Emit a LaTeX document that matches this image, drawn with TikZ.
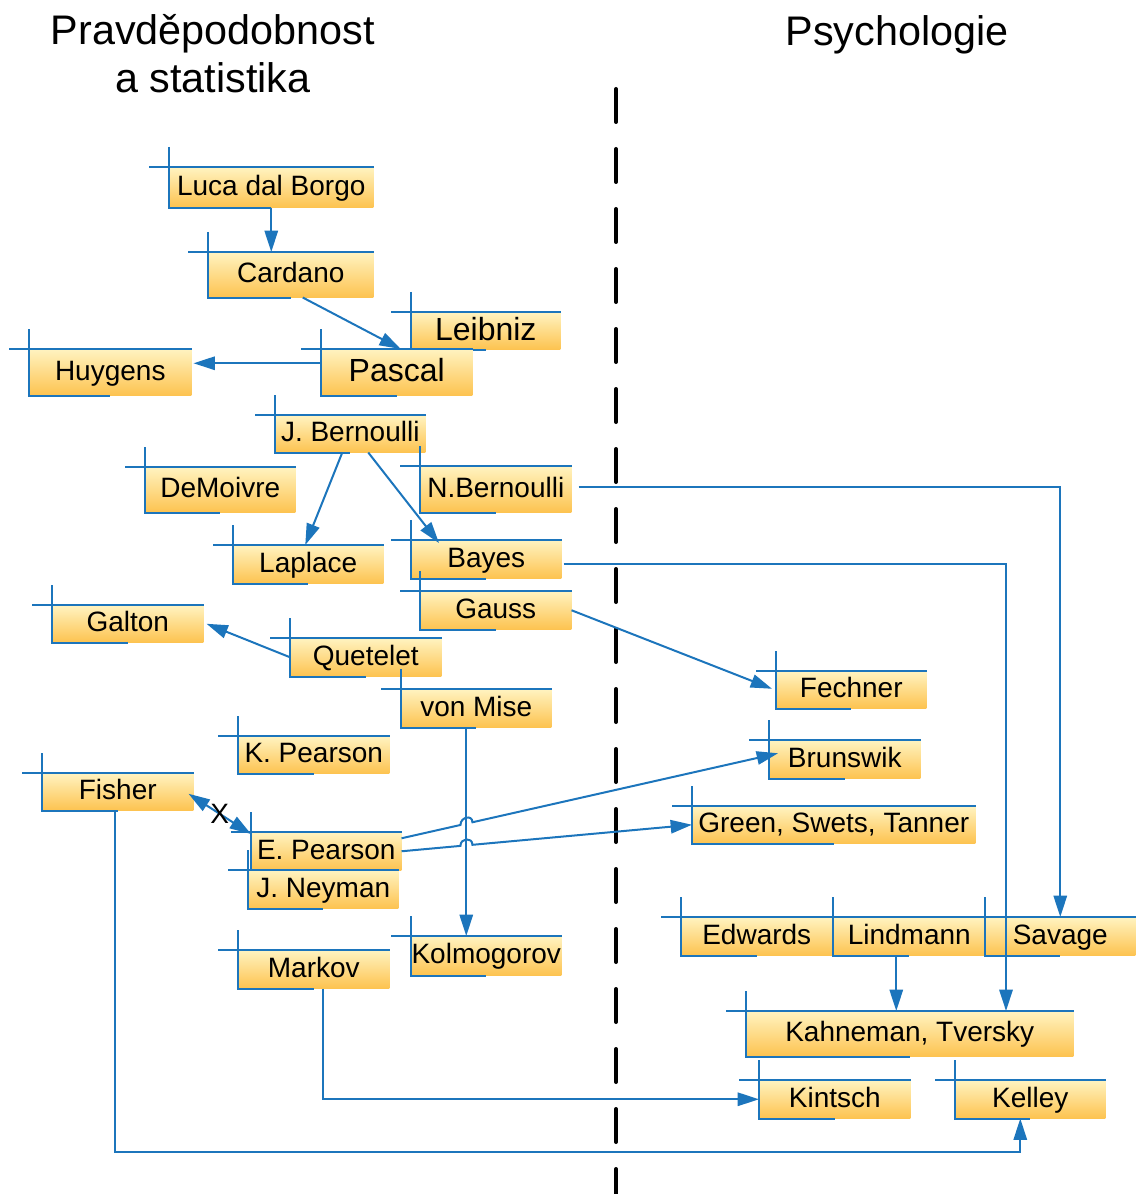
\documentclass[tikz,border=0pt]{standalone}
\usepackage{fontspec}
\setmainfont{Liberation Sans}
\usetikzlibrary{arrows.meta,calc}

\definecolor{lineblue}{RGB}{28,117,188}
\definecolor{boxtop}{RGB}{255,243,192}
\definecolor{boxbot}{RGB}{253,195,80}

\tikzset{
  namebox/.style={inner sep=0pt, top color=boxtop, bottom color=boxbot, draw=none,
    font=\fontsize{21}{25}\selectfont, text=black, text height=15pt, text depth=3pt},
  bigname/.style={font=\fontsize{24}{28}\selectfont, text height=17.2pt, text depth=3pt},
  boxedge/.style={draw=lineblue, line width=1.5pt},
  link/.style={draw=lineblue, line width=1.5pt, -{Triangle[length=16pt,width=10pt]}},
  title/.style={font=\fontsize{31}{36}\selectfont, inner sep=0pt},
  divider/.style={draw=black, line width=3pt, line cap=round, dash pattern=on 24.75pt off 20.25pt}
}

% #1 options, #2 name, #3 left, #4 top, #5 width, #6 height, #7 text (pixel units)
\newcommand\namecard[7][]{%
  \node[namebox, #1, anchor=north west, minimum width=#5*0.75pt, minimum height=#6*0.75pt] (#2) at (#3,#4) {#7};
  \draw[boxedge] ([xshift=-15pt]#2.north west) -- (#2.north east);
  \draw[boxedge] ([yshift=15pt]#2.north west) -- (#2.south west) -- (#2.south);
}

\begin{document}
\begin{tikzpicture}[x=0.75pt,y=-0.75pt]
\useasboundingbox (0,0) rectangle (1135,1194);

% column headings
\node[title, anchor=base] (hprob) at (213,45) {Pravděpodobnost};
\node[title, anchor=base] (hstat) at (213,93) {a statistika};
\node[title, anchor=base] (hpsy) at (897,46) {Psychologie};

% dividing line
\draw[divider] (616,89) -- (616,1194);

% probability and statistics
\namecard{luca}{169}{167}{204}{40}{Luca dal Borgo}
\namecard{cardano}{208}{252}{165}{45}{Cardano}
\namecard[bigname]{leibniz}{411}{312}{149}{37}{Leibniz}
\namecard[bigname]{pascal}{321}{349}{151}{46}{Pascal}
\namecard{huygens}{29}{349}{162}{46}{Huygens}
\namecard{jbern}{275}{415}{150}{37}{J. Bernoulli}
\namecard{demoivre}{145}{467}{150}{45}{DeMoivre}
\namecard{nbern}{420}{466}{151}{46}{N.Bernoulli}
\namecard{laplace}{233}{545}{150}{38}{Laplace}
\namecard{bayes}{411}{540}{150}{38}{Bayes}
\namecard{gauss}{420}{591}{151}{38}{Gauss}
\namecard{galton}{52}{605}{151}{37}{Galton}
\namecard{quetelet}{290}{638}{151}{38}{Quetelet}
\namecard{vonmise}{401}{689}{150}{38}{von Mise}
\namecard{kpearson}{238}{736}{151}{37}{K. Pearson}
\namecard{fisher}{42}{773}{151}{37}{Fisher}
\namecard{epearson}{251}{832}{150}{38}{E. Pearson}
\namecard{jneyman}{248}{870}{150}{38}{J. Neyman}
\namecard{markov}{238}{950}{151}{38}{Markov}
\namecard{kolmogorov}{411}{936}{150}{39}{Kolmogorov}

% psychology
\namecard{fechner}{776}{671}{150}{37}{Fechner}
\namecard{brunswik}{769}{740}{151}{38}{Brunswik}
\namecard{green}{692}{806}{283}{37}{Green, Swets, Tanner}
\namecard{edwards}{681}{917}{151}{38}{Edwards}
\namecard{lindmann}{833}{917}{152}{38}{Lindmann}
\namecard{savage}{985}{917}{150}{38}{Savage}
\namecard{kahneman}{746}{1011}{327}{45}{Kahneman, Tversky}
\namecard{kintsch}{759}{1080}{151}{38}{Kintsch}
\namecard{kelley}{955}{1080}{150}{38}{Kelley}

% influences
\draw[link] (luca.south) -- (luca.south |- cardano.north);
\draw[link] ($(cardano.south)+(12,0)$) -- ($(pascal.north)+(4,0)$);
\draw[link] ($(pascal.west)+(0,-9)$) -- ($(huygens.east)+(2,-9)$);
\draw[link] ($(jbern.south)+(-8,0)$) -- ($(laplace.north)+(-3,0)$);
\draw[link] ($(jbern.south)+(18,0)$) -- ($(bayes.north west)+(28,3)$);
\draw[link] ($(nbern.east)+(7,-2)$) -| (savage.north);
\draw[link] ($(bayes.east)+(2,5)$) -| ($(kahneman.north west)+(260,0)$);
\draw[link] (gauss.east) -- ($(fechner.west)+(-4,-1)$);
\draw[link] (quetelet.west) -- ($(galton.east)+(3,0)$);

\coordinate (vm) at ($(vonmise.south)+(-10,0)$);
\draw[link] (vm) -- (vm |- kolmogorov.north);

\draw[draw=lineblue, line width=1.5pt, {Triangle[length=16pt,width=10pt]}-{Triangle[length=16pt,width=10pt]}]
  ($(fisher.east)+(-5,2)$) -- node[font=\fontsize{21}{25}\selectfont, inner sep=0pt] (xmark) {X} ($(epearson.north west)+(0,2)$);

% lines hopping over the von Mise arrow
\coordinate (epB) at ($(epearson.east)+(0,-13)$);
\coordinate (bwT) at ($(brunswik.west)+(9,-6)$);
\draw[link] (epB) -- ($(epB)!0.1565!(bwT)$) .. controls +(0,-8) and +(0,-8) .. ($(epB)!0.1883!(bwT)$) -- (bwT);

\coordinate (epG) at (epearson.east);
\coordinate (grT) at (green.west);
\draw[link] (epG) -- ($(epG)!0.2027!(grT)$) .. controls +(0,-8) and +(0,-8) .. ($(epG)!0.244!(grT)$) -- (grT);

\coordinate (ld) at ($(lindmann.south)+(-13,0)$);
\draw[link] (ld) -- (ld |- kahneman.north);

\draw[link] ($(markov.south)+(9.5,0)$) |- (kintsch.west);

\coordinate (fk) at ($(fisher.south)+(-2.5,0)$);
\coordinate (kl) at ($(kelley.south)+(-10,0)$);
\draw[link] (fk) |- ($(kl)+(0,33)$) -- (kl);

\end{tikzpicture}
\end{document}
